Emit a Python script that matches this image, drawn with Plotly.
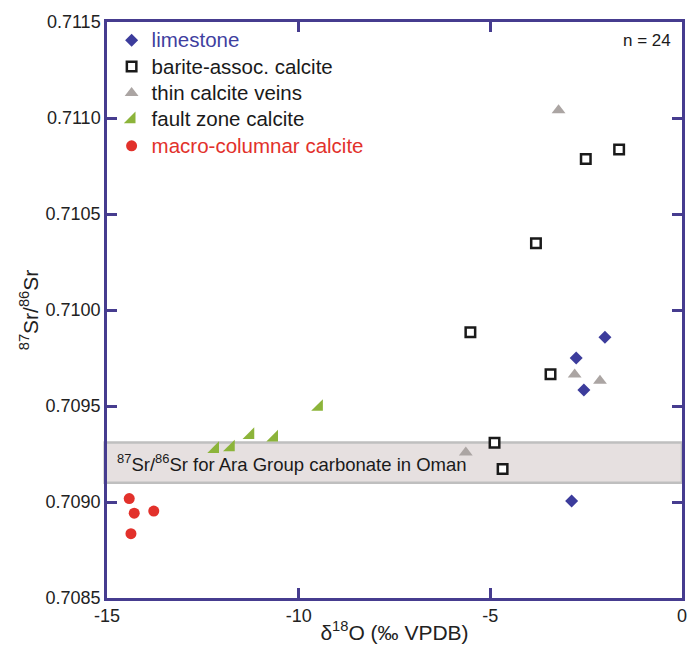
import plotly.graph_objects as go

# ---- data ----
limestone_x = [-2.01, -2.76, -2.56, -2.88]
limestone_y = [0.709858, 0.709750, 0.709583, 0.709005]

barite_x = [-1.64, -2.51, -3.81, -5.52, -3.43, -4.89, -4.68]
barite_y = [0.710836, 0.710786, 0.710348, 0.709884, 0.709665, 0.709308, 0.709172]

veins_x = [-3.22, -2.80, -2.14, -5.64]
veins_y = [0.711041, 0.709664, 0.709631, 0.709258]

fault_x = [-12.18, -11.77, -11.26, -10.64, -9.47]
fault_y = [0.709276, 0.709284, 0.709349, 0.709336, 0.709495]

macro_x = [-14.42, -14.29, -13.78, -14.375]
macro_y = [0.709018, 0.708942, 0.708953, 0.708835]

band_low, band_high = 0.70910, 0.70931
x_ticks = [-15, -10, -5, 0]
y_ticks = [0.7085, 0.7090, 0.7095, 0.7100, 0.7105, 0.7110, 0.7115]

AX = "#463C8F"
BLUE = "#3C3C9C"
RED = "#E2312B"
GREEN = "#8CB43A"
GRAY = "#ABA5A3"
FONT = "Liberation Sans, Arial, sans-serif"


def big(label, color=None):
    style = "font-size:20.5px"
    if color:
        style += f";color:{color}"
    return f'<span style="{style}">{label}</span>'


fig = go.Figure()
fig.add_trace(go.Scatter(x=limestone_x, y=limestone_y, mode="markers",
                         name=big("limestone", "#3F3F9F"),
                         marker=dict(symbol="diamond", size=10, color=BLUE)))
fig.add_trace(go.Scatter(x=barite_x, y=barite_y, mode="markers",
                         name=big("barite-assoc. calcite"),
                         marker=dict(symbol="square", size=9.5, color="white",
                                     line=dict(color="#1a1a1a", width=2.5))))
fig.add_trace(go.Scatter(x=veins_x, y=veins_y, mode="markers",
                         name=big("thin calcite veins"),
                         marker=dict(symbol="triangle-up", size=12, color=GRAY)))
fig.add_trace(go.Scatter(x=fault_x, y=fault_y, mode="markers",
                         name=big("fault zone calcite"),
                         marker=dict(symbol="triangle-se", size=13, color=GREEN)))
fig.add_trace(go.Scatter(x=macro_x, y=macro_y, mode="markers",
                         name=big("macro-columnar calcite", RED),
                         marker=dict(symbol="circle", size=11, color=RED)))

fig.add_shape(type="rect", xref="paper", yref="y", x0=-0.004, x1=1.0,
              y0=band_low, y1=band_high, layer="below",
              fillcolor="#E6E0E0", line=dict(color="#BFBFBF", width=2.5))

fig.add_annotation(xref="paper", yref="y", x=0.014, y=(band_low + band_high) / 2,
                   xanchor="left", yanchor="middle", showarrow=False,
                   text="<sup>87</sup>Sr/<sup>86</sup>Sr for Ara Group carbonate in Oman",
                   font=dict(family=FONT, size=18.5, color="#1a1a1a"))

fig.add_annotation(xref="paper", yref="paper", x=0.985, y=0.968,
                   xanchor="right", yanchor="middle", showarrow=False,
                   text="n = 24", font=dict(family=FONT, size=17, color="#1a1a1a"))

axis_common = dict(showline=True, linecolor=AX, linewidth=2.5, mirror="ticks",
                   ticks="inside", ticklen=10, tickwidth=2.5, tickcolor=AX,
                   showgrid=False, zeroline=False,
                   tickfont=dict(family=FONT, size=18, color="#222222"))

fig.update_xaxes(range=[-15, 0], tickvals=x_ticks, ticktext=[str(v) for v in x_ticks],
                 title=dict(text="δ<sup>18</sup>O (‰ VPDB)", standoff=0,
                            font=dict(family=FONT, size=21, color="#222222")),
                 **axis_common)
fig.update_yaxes(range=[0.7085, 0.7115], tickvals=y_ticks,
                 ticktext=[f"{v:.4f}" for v in y_ticks],
                 title=dict(text="<sup>87</sup>Sr/<sup>86</sup>Sr", standoff=2,
                            font=dict(family=FONT, size=21, color="#222222")),
                 **axis_common)

fig.update_layout(
    width=691, height=659,
    margin=dict(l=107, r=4, t=22, b=61),
    paper_bgcolor="white", plot_bgcolor="white",
    font=dict(family=FONT, color="#1a1a1a"),
    showlegend=True,
    legend=dict(x=0.008, y=1.0, xanchor="left", yanchor="top",
                bgcolor="rgba(0,0,0,0)", borderwidth=0, tracegroupgap=0,
                font=dict(family=FONT, size=18, color="#1a1a1a")),
)

fig.write_html("out.html", config={"displayModeBar": False},
               post_script="document.body.style.margin='0';document.body.style.padding='0';")
